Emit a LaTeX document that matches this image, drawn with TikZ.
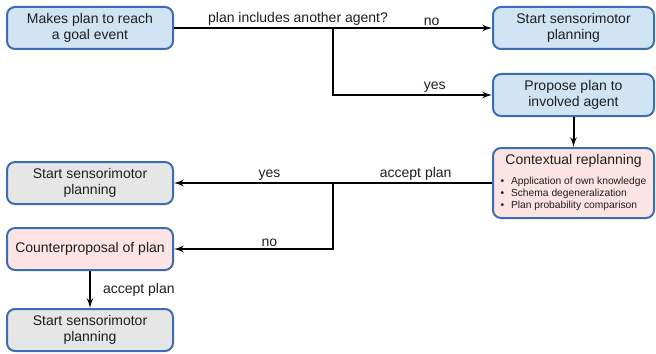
\documentclass[tikz,border=0pt]{standalone}
\usepackage{fontspec}
\setmainfont{Liberation Sans}
\usetikzlibrary{arrows,positioning}
\definecolor{boxblue}{HTML}{D0E4F4}
\definecolor{boxpink}{HTML}{FCE4E4}
\definecolor{boxgray}{HTML}{E6E6E6}
\definecolor{rimblue}{HTML}{3C6DB4}
\definecolor{inkgray}{HTML}{1E1E1E}

\begin{document}
\begin{tikzpicture}[x=0.75pt,y=-0.75pt,>=latex',
		every node/.style={font=\fontsize{10.5}{12}\selectfont,text=inkgray},
		box/.style={draw=rimblue,line width=1.5pt,rounded corners=6pt,align=center,minimum height=31.5pt,inner sep=2pt},
		wide/.style={box,minimum width=124.5pt},
		narrow/.style={box,minimum width=120.75pt},
		flow/.style={->,line width=1.5pt},
		lbl/.style={above,inner sep=1pt}]
		\useasboundingbox (0,0) rectangle (656,353);

		\node[wide,fill=boxblue] (plan) at (90,28) {Makes plan to reach\\a goal event};
		\node[narrow,fill=boxblue] (startA) at (573.5,28) {Start sensorimotor\\planning};
		\node[narrow,fill=boxblue] (propose) at (573.5,95) {Propose plan to\\involved agent};
		\node[narrow,fill=boxpink,minimum height=52.5pt] (ctx) at (573.5,183) {Contextual replanning\\[2.6pt]{\fontsize{7.7}{9}\selectfont\begin{tabular}[t]{@{}l@{\hspace{5pt}}l@{}}
				\textbullet & Application of own knowledge\\
				\textbullet & Schema degeneralization\\
				\textbullet & Plan probability comparison
			\end{tabular}}};
		\node[wide,fill=boxgray] (startB) at (90,183) {Start sensorimotor\\planning};
		\node[wide,fill=boxpink] (counter) at (90,249) {Counterproposal of plan};
		\node[wide,fill=boxgray] (startC) at (90,330) {Start sensorimotor\\planning};

		\coordinate (fork1) at (333,28);
		\coordinate (fork2) at (fork1 |- ctx.west);

		\draw[flow] (plan) -- (startA)
			node[lbl,pos=0.39] {plan includes another agent?}
			node[lbl,pos=0.81] {no};
		\draw[flow] (fork1) |- (propose.west) node[lbl,pos=0.82] {yes};
		\draw[flow] (propose) -- (ctx);
		\draw[flow] (ctx) -- (startB)
			node[lbl,pos=0.24] {accept plan}
			node[lbl,pos=0.70] {yes};
		\draw[flow] (fork2) |- (counter.east) node[lbl,pos=0.70] {no};
		\draw[flow] (counter) -- (startC) node[midway,right=8pt,inner sep=1pt] {accept plan};
	\end{tikzpicture}
\end{document}
